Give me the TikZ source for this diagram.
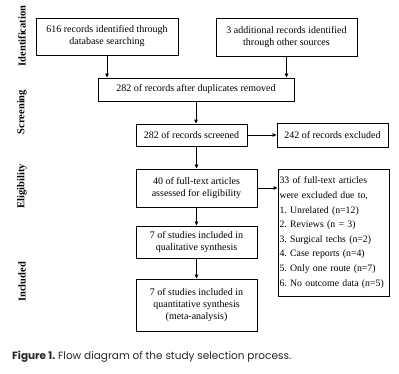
\documentclass[tikz,border=0pt]{standalone}
\usepackage{fontspec}
\setmainfont{Liberation Serif}
\newfontfamily\capfont{Poppins}
\usetikzlibrary{arrows.meta}
\frenchspacing
\begin{document}
\begin{tikzpicture}[x=1pt,y=-1pt,
  box/.style={draw=black,line width=0.9pt,fill=white,inner sep=0pt,align=center,
    font=\fontsize{10}{12}\selectfont},
  side/.style={rotate=90,font=\fontsize{10.5}{12}\selectfont\bfseries,inner sep=0pt},
  arr/.style={line width=0.9pt,-{Triangle[length=4pt,width=3.6pt]}}]
\useasboundingbox (0,0) rectangle (399,374);
% side labels
\node[side] (lid) at (22,36) {Identification};
\node[side] (lsc) at (22,112) {Screening};
\node[side] (lel) at (22,186) {Eligibility};
\node[side] (lin) at (22,282) {Included};
% boxes
\node[box,minimum width=142pt,minimum height=37pt] (b1) at (107,36.5) {616 records identified through\\database searching};
\node[box,minimum width=141pt,minimum height=38pt] (b2) at (286.5,37) {3 additional records identified\\through other sources};
\node[box,minimum width=196pt,minimum height=23pt] (b3) at (196,89.5) {282 of records after duplicates removed};
\node[box,minimum width=111pt,minimum height=22pt] (b4) at (191.5,135) {282 of records screened};
\node[box,minimum width=111pt,minimum height=24pt] (b5) at (332.5,135) {242 of records excluded};
\node[box,minimum width=121pt,minimum height=38pt] (b6) at (196.5,188) {40 of full-text articles\\assessed for eligibility};
\node[box,minimum width=111pt,minimum height=127pt,align=left,text width=108pt,
  font=\fontsize{9.8}{14.6}\selectfont] (b7) at (333.5,232.5) {33 of full-text articles\\were excluded due to,\\1. Unrelated (n=12)\\2. Reviews (n = 3)\\3. Surgical techs (n=2)\\4. Case reports (n=4)\\5. Only one route (n=7)\\6. No outcome data (n=5)};
\node[box,minimum width=121pt,minimum height=32pt] (b8) at (196.5,242) {7 of studies included in\\qualitative synthesis};
\node[box,minimum width=121pt,minimum height=52pt] (b9) at (196.5,305) {7 of studies included in\\quantitative synthesis\\(meta-analysis)};
% arrows
\draw[arr] (b1.south) -- (b1.south |- b3.north);
\draw[arr] (b2.south) -- (b2.south |- b3.north);
\draw[arr] (b3.south) -- (b3.south |- b4.north);
\draw[arr] (b4.east) -- (b4.east -| b5.west);
\draw[arr] (b4.south -| b6.north) -- (b6.north);
\draw[arr] (b6.east) -- (b6.east -| b7.west);
\draw[arr] (b6.south) -- (b8.north);
\draw[arr] (b8.south) -- (b9.north);
% caption
\node[anchor=base west,inner sep=0pt,font=\capfont\fontsize{10.5}{12}\selectfont,text=black!85] (cap) at (12,359) {\textbf{Figure 1.} Flow diagram of the study selection process.};
\end{tikzpicture}
\end{document}
